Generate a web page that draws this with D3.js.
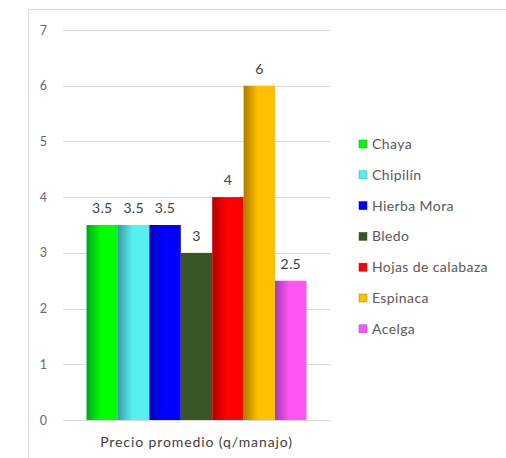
<!DOCTYPE html>
<html>
<head>
<meta charset="utf-8">
<script src="https://cdn.jsdelivr.net/npm/d3@7"></script>
<style>
  html, body { margin: 0; padding: 0; background: #ffffff; }
  svg { display: block; }
  text { font-family: Lato, "Open Sans", sans-serif; }
</style>
</head>
<body>
<svg id="chart" width="506" height="458"></svg>
<script>
// Average price per bunch of leafy greens (quetzales)
const category = "Precio promedio (q/manajo)";
const series = ["Chaya", "Chipilín", "Hierba Mora", "Bledo", "Hojas de calabaza", "Espinaca", "Acelga"];
const values = [3.5, 3.5, 3.5, 3, 4, 6, 2.5];
const labels = ["3.5", "3.5", "3.5", "3", "4", "6", "2.5"];
const yTicks = [0, 1, 2, 3, 4, 5, 6, 7];
// dark edge -> bright face for each series
const darkColors = ["#00a424", "#3a9ca8", "#0000b4", "#375623", "#b00000", "#b07a00", "#a23cb4"];
const brightColors = ["#00ff00", "#55f0f0", "#0000ff", "#375623", "#ff0000", "#ffc000", "#ff55f5"];

const svg = d3.select("#chart");
const plot = { left: 63, right: 330, top: 30, bottom: 420 };

// chart frame
svg.append("rect")
  .attr("x", 28.5).attr("y", 9.5)
  .attr("width", 600).attr("height", 600)
  .attr("fill", "none").attr("stroke", "#d9d9d9").attr("stroke-width", 1);

const y = d3.scaleLinear().domain([0, 7]).range([plot.bottom, plot.top]);
const x0 = d3.scaleBand().domain([category]).range([plot.left, plot.right])
  .paddingInner(0).paddingOuter(0.107);
const x1 = d3.scaleBand().domain(series).range([0, x0.bandwidth()]).padding(0);

// gradients
const defs = svg.append("defs");
series.forEach((s, i) => {
  const g = defs.append("linearGradient").attr("id", "grad" + i)
    .attr("x1", "0%").attr("x2", "100%").attr("y1", "0%").attr("y2", "0%");
  g.append("stop").attr("offset", "0%").attr("stop-color", darkColors[i]);
  g.append("stop").attr("offset", "45%").attr("stop-color", brightColors[i]);
  g.append("stop").attr("offset", "100%").attr("stop-color", brightColors[i]);
});

// gridlines
svg.append("g").selectAll("line").data(yTicks).join("line")
  .attr("x1", plot.left).attr("x2", plot.right)
  .attr("y1", d => Math.round(y(d)) + 0.5).attr("y2", d => Math.round(y(d)) + 0.5)
  .attr("stroke", "#d9d9d9").attr("stroke-width", 1);

// y tick labels
const yAxis = d3.axisLeft(y).tickValues(yTicks).tickSize(0).tickPadding(0).tickFormat(d3.format("d"));
const ya = svg.append("g").attr("transform", `translate(47,0)`).call(yAxis);
ya.select(".domain").remove();
ya.selectAll("text").attr("fill", "#6a6a6a").style("font-size", "12.5px")
  .style("font-family", "Lato, sans-serif").attr("text-anchor", "end");

// bars
const group = svg.append("g").attr("transform", `translate(${x0(category)},0)`);
group.selectAll("rect").data(series).join("rect")
  .attr("x", s => x1(s))
  .attr("y", (s, i) => y(values[i]))
  .attr("width", x1.bandwidth())
  .attr("height", (s, i) => y(0) - y(values[i]))
  .attr("fill", (s, i) => `url(#grad${i})`);

// value labels
group.selectAll("text").data(series).join("text")
  .attr("x", s => x1(s) + x1.bandwidth() / 2)
  .attr("y", (s, i) => y(values[i]) - 12)
  .attr("text-anchor", "middle")
  .attr("fill", "#404040")
  .style("font-size", "14px")
  .style("letter-spacing", "0.3px")
  .text((s, i) => labels[i]);

// category axis label
svg.append("text")
  .attr("x", x0(category) + x0.bandwidth() / 2)
  .attr("y", 447)
  .attr("text-anchor", "middle")
  .attr("fill", "#404040")
  .style("font-size", "14px")
  .style("letter-spacing", "0.9px")
  .text(category);

// legend
const legend = svg.append("g");
const ly0 = 144, lstep = 30.8;
series.forEach((s, i) => {
  const row = legend.append("g").attr("transform", `translate(359,${ly0 + i * lstep})`);
  row.append("rect").attr("x", 0).attr("y", -4).attr("width", 8).attr("height", 8)
    .attr("fill", brightColors[i]).attr("stroke", darkColors[i]).attr("stroke-width", 0.5);
  row.append("text").attr("x", 13).attr("y", 0).attr("dy", "0.35em")
    .attr("fill", "#595959").style("font-size", "14px")
    .style("letter-spacing", "0.4px").text(s);
});
</script>
</body>
</html>
